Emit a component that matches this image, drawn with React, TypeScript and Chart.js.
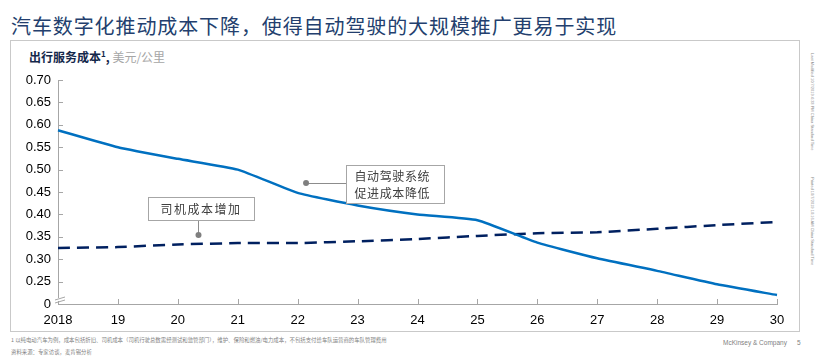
import React, { useEffect, useRef } from "react";
import { Chart, registerables } from "chart.js";

Chart.register(...registerables);

// ---- Data ----
const categories = ["2018", "19", "20", "21", "22", "23", "24", "25", "26", "27", "28", "29", "30"];
const autonomousCost = [0.588, 0.55, 0.524, 0.5, 0.448, 0.42, 0.4, 0.387, 0.337, 0.302, 0.274, 0.244, 0.22];
const driverCost = [0.325, 0.327, 0.333, 0.336, 0.336, 0.34, 0.345, 0.352, 0.358, 0.36, 0.368, 0.376, 0.383];
const yTickValues = [0.2, 0.25, 0.3, 0.35, 0.4, 0.45, 0.5, 0.55, 0.6, 0.65, 0.7];
const yTickLabels = ["0", "0.25", "0.30", "0.35", "0.40", "0.45", "0.50", "0.55", "0.60", "0.65", "0.70"];

const titleText = "汽车数字化推动成本下降，使得自动驾驶的大规模推广更易于实现";
const subtitleBold = "出行服务成本";
const subtitleUnit = "美元/公里";
const noteAutonomous = ["自动驾驶系统", "促进成本降低"];
const noteDriver = ["司机成本增加"];
const footnote1 = "1 以纯电动汽车为例，成本包括折旧、司机成本（司机行驶总数需经测试和监管部门），维护、保险和燃油/电力成本，不包括支付给车队运营商的车队管理费用";
const footnote2 = "资料来源：专家访谈，麦肯锡分析";

const CJK = '"Noto Sans CJK SC", "Noto Sans", sans-serif';
const LATIN = '"Liberation Sans", Arial, sans-serif';

function drawSpacedText(ctx: CanvasRenderingContext2D, text: string, x: number, y: number, spacing: number) {
  let cx = x;
  for (const ch of text) {
    ctx.fillText(ch, cx, y);
    cx += ctx.measureText(ch).width + spacing;
  }
}

const decorPlugin = {
  id: "decor",
  afterDatasetsDraw(chart: any) {
    const ctx: CanvasRenderingContext2D = chart.ctx;
    const xs = chart.scales.x;
    const ys = chart.scales.y;
    ctx.save();
    // inner tick marks
    ctx.strokeStyle = "#A6A6A6";
    ctx.lineWidth = 1;
    yTickValues.forEach((v, i) => {
      if (i === 0) return;
      const py = Math.round(ys.getPixelForValue(v)) + 0.5;
      ctx.beginPath();
      ctx.moveTo(xs.left, py);
      ctx.lineTo(xs.left + 5, py);
      ctx.stroke();
    });
    categories.forEach((_, i) => {
      if (i === 0) return;
      const px = Math.round(xs.getPixelForValue(i)) + 0.5;
      ctx.beginPath();
      ctx.moveTo(px, ys.bottom);
      ctx.lineTo(px, ys.bottom - 5);
      ctx.stroke();
    });
    // axis break mark
    const bx = xs.left;
    const by = ys.bottom;
    ctx.fillStyle = "#ffffff";
    ctx.fillRect(bx - 1, by - 6, 3, 3);
    ctx.beginPath();
    ctx.moveTo(bx - 3, by - 4);
    ctx.lineTo(bx + 7, by - 7);
    ctx.moveTo(bx - 3, by - 1);
    ctx.lineTo(bx + 7, by - 4);
    ctx.stroke();

    // annotations
    const drawDot = (px: number, py: number) => {
      ctx.fillStyle = "#7F7F7F";
      ctx.beginPath();
      ctx.arc(px, py, 3, 0, Math.PI * 2);
      ctx.fill();
    };
    ctx.font = `12px ${CJK}`;
    ctx.textBaseline = "middle";
    ctx.textAlign = "left";

    // Annotation 1: autonomous
    const d1x = xs.getPixelForValue(4.14);
    const d1y = ys.getPixelForValue(0.47);
    const b1 = { x: Math.round(d1x + 40) + 0.5, y: Math.round(d1y - 18) + 0.5, w: 98, h: 38 };
    ctx.strokeStyle = "#8C8C8C";
    ctx.beginPath();
    ctx.moveTo(d1x, Math.round(d1y) + 0.5);
    ctx.lineTo(b1.x, Math.round(d1y) + 0.5);
    ctx.stroke();
    ctx.fillStyle = "#ffffff";
    ctx.fillRect(b1.x, b1.y, b1.w, b1.h);
    ctx.strokeStyle = "#A6A6A6";
    ctx.strokeRect(b1.x, b1.y, b1.w, b1.h);
    drawDot(d1x, d1y);
    ctx.fillStyle = "#404040";
    drawSpacedText(ctx, noteAutonomous[0], b1.x + 8, b1.y + 11, 0.6);
    drawSpacedText(ctx, noteAutonomous[1], b1.x + 8, b1.y + 28, 0.6);

    // Annotation 2: driver
    const d2x = xs.getPixelForValue(2.34);
    const d2y = ys.getPixelForValue(0.354);
    const b2 = { x: Math.round(d2x - 50) + 0.5, y: Math.round(d2y - 38) + 0.5, w: 106, h: 23 };
    ctx.strokeStyle = "#8C8C8C";
    ctx.beginPath();
    ctx.moveTo(Math.round(d2x) + 0.5, b2.y + b2.h);
    ctx.lineTo(Math.round(d2x) + 0.5, d2y);
    ctx.stroke();
    ctx.fillStyle = "#ffffff";
    ctx.fillRect(b2.x, b2.y, b2.w, b2.h);
    ctx.strokeStyle = "#A6A6A6";
    ctx.strokeRect(b2.x, b2.y, b2.w, b2.h);
    drawDot(Math.round(d2x) + 0.5, d2y);
    ctx.fillStyle = "#404040";
    drawSpacedText(ctx, noteDriver[0], b2.x + 12, b2.y + 12, 1.5);

    ctx.restore();
  },
};

export default function App() {
  const canvasRef = useRef<HTMLCanvasElement>(null);

  useEffect(() => {
    document.body.style.margin = "0";
    const canvas = canvasRef.current;
    if (!canvas) return;
    const chart = new Chart(canvas, {
      type: "line",
      data: {
        labels: categories,
        datasets: [
          {
            label: "自动驾驶",
            data: autonomousCost,
            borderColor: "#0070C0",
            borderWidth: 2.5,
            pointRadius: 0,
            tension: 0.15,
            fill: false,
          },
          {
            label: "司机成本",
            data: driverCost,
            borderColor: "#002060",
            borderWidth: 2.5,
            borderDash: [12, 7],
            pointRadius: 0,
            tension: 0.1,
            fill: false,
          },
        ],
      },
      options: {
        responsive: false,
        animation: false,
        events: [],
        layout: { padding: { left: 0, right: 23, top: 40, bottom: 0 } },
        plugins: {
          legend: { display: false },
          tooltip: { enabled: false },
          title: { display: false },
        },
        scales: {
          x: {
            type: "category",
            offset: false,
            grid: { display: false, drawTicks: false },
            border: { display: true, color: "#A6A6A6", width: 1 },
            ticks: {
              color: "#000000",
              font: { family: LATIN, size: 13 },
              padding: 9,
              autoSkip: false,
              maxRotation: 0,
            },
            afterFit: (scale: any) => {
              scale.height = 28;
            },
          },
          y: {
            min: 0.2,
            max: 0.7,
            grid: { display: false, drawTicks: false },
            border: { display: true, color: "#A6A6A6", width: 1 },
            afterBuildTicks: (scale: any) => {
              scale.ticks = yTickValues.map((v) => ({ value: v }));
            },
            ticks: {
              color: "#000000",
              font: { family: LATIN, size: 13 },
              padding: 7,
              callback: (value: any) => {
                const idx = yTickValues.findIndex((v) => Math.abs(v - Number(value)) < 1e-6);
                return idx >= 0 ? yTickLabels[idx] : "";
              },
            },
            afterFit: (scale: any) => {
              scale.width = 48;
            },
          },
        },
      },
      plugins: [decorPlugin],
    });
    return () => chart.destroy();
  }, []);

  return (
    <div style={{ position: "absolute", left: 0, top: 0, width: 820, height: 358, background: "#fff", overflow: "hidden" }}>
      <div
        style={{
          position: "absolute",
          left: 11,
          top: 12,
          fontFamily: CJK,
          fontSize: 20,
          letterSpacing: "0.9px",
          color: "#233F6E",
          lineHeight: "28px",
          whiteSpace: "nowrap",
        }}
      >
        {titleText}
      </div>
      <div
        style={{
          position: "absolute",
          left: 10,
          top: 40,
          width: 790,
          height: 292,
          boxSizing: "border-box",
          border: "1px solid #C9C9C9",
        }}
      />
      <div
        style={{
          position: "absolute",
          left: 29,
          top: 45,
          fontFamily: CJK,
          fontSize: 12,
          lineHeight: "18px",
          whiteSpace: "nowrap",
        }}
      >
        <span style={{ fontWeight: 700, color: "#14284B" }}>{subtitleBold}</span>
        <sup style={{ fontWeight: 700, color: "#14284B", fontSize: 8 }}>1</sup>
        <span style={{ fontWeight: 700, color: "#14284B" }}>, </span>
        <span style={{ color: "#A6A6A6" }}>{subtitleUnit}</span>
      </div>
      <canvas ref={canvasRef} width={790} height={292} style={{ position: "absolute", left: 10, top: 40, width: 790, height: 292 }} />
      <div
        style={{
          position: "absolute",
          left: 11,
          top: 337,
          fontFamily: CJK,
          fontSize: 5.4,
          color: "#7F7F7F",
          lineHeight: "7px",
          whiteSpace: "nowrap",
        }}
      >
        {footnote1}
      </div>
      <div
        style={{
          position: "absolute",
          left: 11,
          top: 349,
          fontFamily: CJK,
          fontSize: 5.4,
          color: "#7F7F7F",
          lineHeight: "7px",
          whiteSpace: "nowrap",
        }}
      >
        {footnote2}
      </div>
      <div
        style={{
          position: "absolute",
          left: 723,
          top: 339,
          fontFamily: LATIN,
          fontSize: 6.5,
          color: "#7F7F7F",
          lineHeight: "8px",
          whiteSpace: "nowrap",
        }}
      >
        McKinsey &amp; Company
        <span style={{ marginLeft: 10 }}>5</span>
      </div>
      <div
        style={{
          position: "absolute",
          left: 810,
          top: 53,
          writingMode: "vertical-rl",
          fontFamily: LATIN,
          fontSize: 4,
          color: "#8C8C8C",
          whiteSpace: "nowrap",
        }}
      >
        Last Modified 10/7/2019 4:33 PM China Standard Time
      </div>
      <div
        style={{
          position: "absolute",
          left: 810,
          top: 177,
          writingMode: "vertical-rl",
          fontFamily: LATIN,
          fontSize: 4,
          color: "#8C8C8C",
          whiteSpace: "nowrap",
        }}
      >
        Printed 10/7/2019 10:16 AM China Standard Time
      </div>
    </div>
  );
}
